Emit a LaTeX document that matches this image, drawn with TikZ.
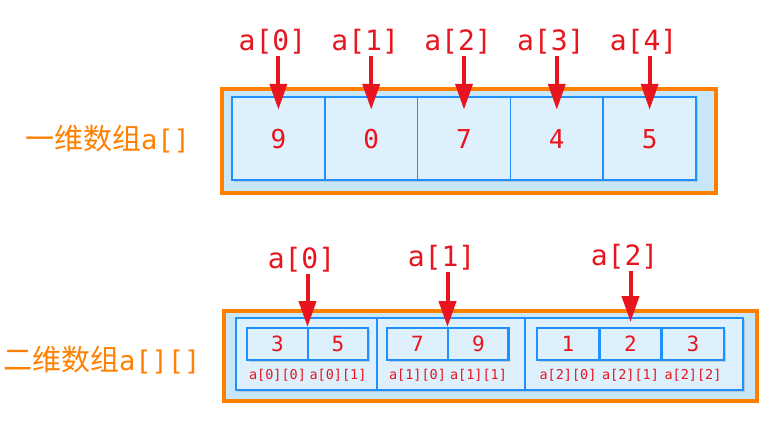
\documentclass[tikz,border=0pt]{standalone}
\usepackage{fontspec}
\setmonofont{DejaVu Sans Mono}
\newfontfamily\cjk{Noto Sans CJK SC}
\usetikzlibrary{arrows.meta, positioning, shadows}
\definecolor{arrorange}{RGB}{255,128,0}
\definecolor{arrred}{RGB}{232,20,30}
\definecolor{arrblue}{RGB}{30,144,255}
\definecolor{arrframe}{RGB}{200,232,250}
\definecolor{arrcell}{RGB}{222,240,252}

\begin{document}
\begin{tikzpicture}[x=1pt, y=-1pt,
        frame/.style={rectangle, draw=arrorange, line width=4.5pt, fill=arrframe, inner sep=0pt,
                      drop shadow={shadow xshift=2pt, shadow yshift=-2pt, opacity=0.3}},
        row/.style={rectangle, draw=arrblue, line width=2pt, fill=arrcell, inner sep=0pt,
                    drop shadow={shadow xshift=2pt, shadow yshift=-2pt, opacity=0.3}},
        cell/.style={rectangle, draw=arrblue, line width=1.5pt, inner sep=0pt, text=arrred},
        idx/.style={text=arrred, font=\ttfamily\fontsize{28}{28}\selectfont, inner sep=1pt},
        sub/.style={text=arrred, font=\ttfamily\fontsize{13.5}{14}\selectfont, inner sep=1pt},
        title/.style={text=arrorange, anchor=west, inner sep=0pt},
        pointer/.style={draw=arrred, line width=4pt, -{Triangle[length=26pt, width=17pt]}}
    ]
        \useasboundingbox (0,0) rectangle (774,421);

        % one-dimensional array
        \node[title] (t1) at (25,139) {\cjk\fontsize{29}{29}\selectfont 一维数组\ttfamily\fontsize{27}{27}\selectfont a[]};
        \node[frame, minimum width=494pt, minimum height=104pt] (f1) at (469,141) {};
        \node[row, minimum width=464pt, minimum height=83pt] (r1) at (464,138.5) {};
        \foreach \v [count=\i from 0] in {9,0,7,4,5} {
            \node[cell, minimum width=92.8pt, minimum height=83pt,
                  font=\ttfamily\fontsize{26}{26}\selectfont] (c\i) at ({278.4+92.8*\i},139) {\v};
            \node[idx] (l\i) at ({272.4+92.8*\i},42) {a[\i]};
            \draw[pointer, shorten >=-13pt] (l\i.south -| c\i.north) -- (c\i.north);
        }

        % two-dimensional array
        \node[title] (t2) at (3,360) {\cjk\fontsize{29}{29}\selectfont 二维数组\ttfamily\fontsize{27}{27}\selectfont a[][]};
        \node[frame, minimum width=533pt, minimum height=90pt] (f2) at (490.5,356) {};
        \node[row, minimum width=507pt, minimum height=72pt] (r2) at (489.5,354) {};
        \node[cell, fill=arrcell, minimum width=141pt, minimum height=72pt] (s0) at (306.5,354) {};
        \node[cell, fill=arrcell, minimum width=148pt, minimum height=72pt] (s1) at (451,354) {};
        \node[cell, fill=arrcell, minimum width=218pt, minimum height=72pt] (s2) at (634,354) {};
        \node[row, minimum width=121pt, minimum height=32pt] (g0) at (307.5,344) {};
        \node[row, minimum width=121pt, minimum height=32pt] (g1) at (447.5,344) {};
        \node[row, minimum width=187pt, minimum height=32pt] (g2) at (630.5,344) {};
        \foreach \x/\v/\n in {277.5/3/00, 338/5/01, 417.5/7/10, 478.5/9/11, 568/1/20, 630.5/2/21, 693/3/22} {
            \node[cell, minimum width=61pt, minimum height=32pt,
                  font=\ttfamily\fontsize{21}{21}\selectfont] (c\n) at (\x,344) {\v};
        }
        \node[sub] (n00) at (277.5,375) {a[0][0]};
        \node[sub] (n01) at (338,375) {a[0][1]};
        \node[sub] (n10) at (417.5,375) {a[1][0]};
        \node[sub] (n11) at (478.5,375) {a[1][1]};
        \node[sub] (n20) at (568,375) {a[2][0]};
        \node[sub] (n21) at (630.5,375) {a[2][1]};
        \node[sub] (n22) at (693,375) {a[2][2]};

        \node[idx] (m0) at (301.5,260) {a[0]};
        \node[idx] (m1) at (441.5,258) {a[1]};
        \node[idx] (m2) at (624.5,257) {a[2]};
        \draw[pointer] (m0.south -| g0.north) -- (g0.north);
        \draw[pointer] (m1.south -| g1.north) -- (g1.north);
        \draw[pointer, shorten >=5pt] (m2.south -| g2.north) -- (g2.north);
    \end{tikzpicture}
\end{document}
